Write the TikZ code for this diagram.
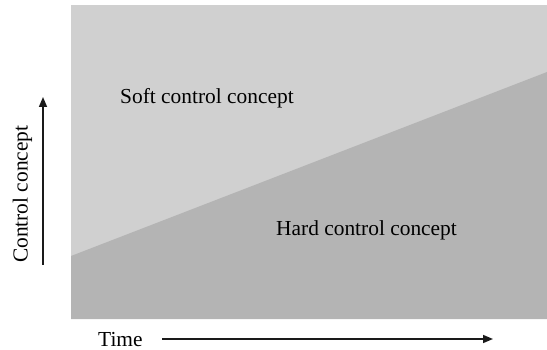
\documentclass[tikz,border=0pt]{standalone}
\usepackage{fontspec}
\setmainfont{Liberation Serif}
\usetikzlibrary{arrows.meta}
\definecolor{softgray}{HTML}{D0D0D0}
\definecolor{hardgray}{HTML}{B4B4B4}
\definecolor{axisline}{HTML}{1A1A1A}
\begin{document}
\begin{tikzpicture}[x=1pt,y=-1pt,
  lbl/.style={font=\fontsize{21.4}{24}\selectfont, inner sep=0pt, anchor=base west},
  axis/.style={draw=axisline, line width=1.5pt, -{Triangle[length=10pt,width=8pt]}}]
\useasboundingbox (0,0) rectangle (547,350);
% concept regions
\fill[softgray] (71,5) rectangle (547,319);
\fill[hardgray] (71,256) -- (547,72) -- (547,319) -- (71,319) -- cycle;
% region labels
\node[lbl] (soft) at (120,104) {Soft control concept};
\node[lbl] (hard) at (276,236) {Hard control concept};
% vertical axis
\node[lbl, rotate=90] (ylab) at (27.5,263) {Control concept};
\coordinate (ystart) at (43,265);
\coordinate (yend) at (43,97);
\draw[axis] (ystart) -- (yend);
% horizontal axis
\node[lbl] (xlab) at (98,346) {Time};
\coordinate (xstart) at (162,339);
\coordinate (xend) at (493,339);
\draw[axis] (xstart) -- (xend);
\end{tikzpicture}
\end{document}
